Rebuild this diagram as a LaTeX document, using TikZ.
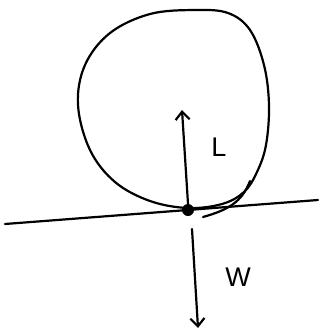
\documentclass[tikz,border=0pt]{standalone}
\usepackage{fontspec}
\setmainfont{Liberation Sans}
\usetikzlibrary{arrows.meta}
\begin{document}
\begin{tikzpicture}[x=1pt,y=-1pt,
  ink/.style={line width=2.2pt,line cap=round,line join=round,black},
  force/.style={ink,-{Straight Barb[length=8pt,width=14pt,line width=2.2pt]}},
  lbl/.style={font=\fontsize{27}{27}\selectfont,inner sep=0pt}]
\useasboundingbox (0,0) rectangle (321,335);
% ground line
\coordinate (gl) at (5,224);
\coordinate (gr) at (318,200);
\draw[ink] (gl) -- (gr);
% body outline
\draw[ink] plot[smooth cycle,tension=0.6] coordinates {
  (188,208) (150,201) (115,182) (90,150) (78,105) (85,65) (110,33)
  (150,14) (195,10) (228,13) (250,30) (264,65) (269,105) (266,145)
  (257,172) (244,192) (222,204)};
% small tangent stroke
\coordinate (ts) at (203,217);
\coordinate (te) at (250,181);
\draw[ink] (ts) .. controls (228,210) and (242,202) .. (te);
% contact point
\node[circle,fill=black,minimum size=12pt,inner sep=0pt] (p) at (188,210) {};
% forces
\coordinate (Ltip) at (182,110);
\coordinate (Wtail) at (192,229);
\coordinate (Wtip) at (198,328);
\draw[force] (p.north) -- (Ltip);
\draw[force] (Wtail) -- (Wtip);
\node[lbl] (L) at (219,147) {L};
\node[lbl] (W) at (238,277) {W};
\end{tikzpicture}
\end{document}
